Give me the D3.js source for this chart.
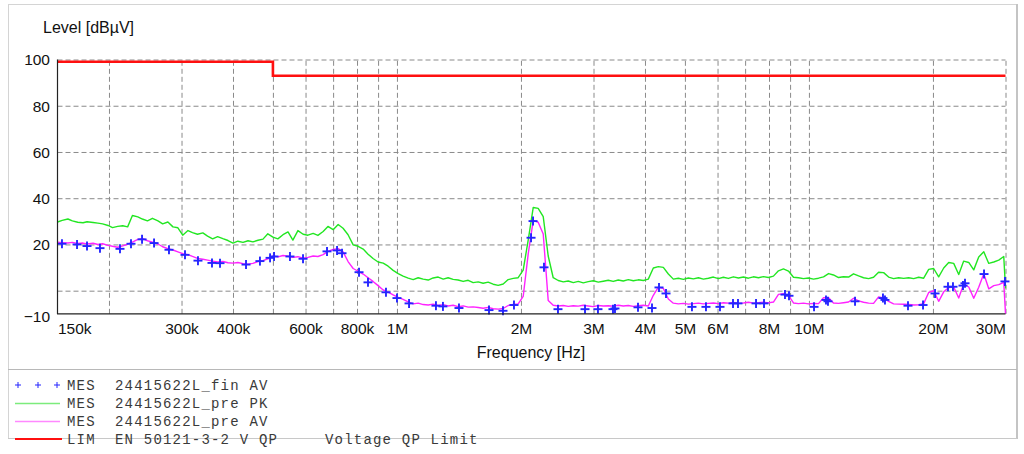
<!DOCTYPE html>
<html><head><meta charset="utf-8">
<script src="https://cdn.jsdelivr.net/npm/d3@7"></script>
<style>body{margin:0;background:#fff;} svg{display:block;}</style>
</head><body><svg id="c" width="1024" height="454"></svg>
<script>
// ---------------- DATA ----------------
const freqMHz = [
0.150,0.154,0.159,0.163,0.168,0.173,0.177,0.183,0.188,0.193,
0.199,0.204,0.210,0.216,0.222,0.228,0.235,0.241,0.248,0.255,
0.263,0.270,0.278,0.286,0.294,0.302,0.311,0.319,0.328,0.338,
0.347,0.357,0.367,0.378,0.389,0.400,0.411,0.423,0.435,0.447,
0.460,0.473,0.486,0.500,0.514,0.529,0.544,0.559,0.575,0.592,
0.608,0.626,0.643,0.662,0.680,0.700,0.720,0.740,0.761,0.783,
0.805,0.828,0.851,0.875,0.900,0.926,0.952,0.979,1.007,1.035,
1.065,1.095,1.126,1.158,1.191,1.224,1.259,1.295,1.331,1.369,
1.408,1.448,1.489,1.531,1.575,1.619,1.665,1.712,1.761,1.811,
1.862,1.915,1.969,2.025,2.083,2.142,2.202,2.265,2.329,2.395,
2.463,2.533,2.605,2.679,2.755,2.833,2.913,2.996,3.081,3.168,
3.258,3.350,3.445,3.543,3.644,3.747,3.853,3.963,4.075,4.191,
4.310,4.432,4.558,4.687,4.820,4.957,5.097,5.242,5.391,5.544,
5.701,5.863,6.029,6.200,6.376,6.557,6.743,6.934,7.131,7.333,
7.541,7.755,7.975,8.201,8.434,8.673,8.919,9.172,9.432,9.700,
9.975,10.26,10.55,10.85,11.16,11.47,11.80,12.13,12.48,12.83,
13.20,13.57,13.96,14.35,14.76,15.18,15.61,16.05,16.51,16.98,
17.46,17.96,18.47,18.99,19.53,20.08,20.65,21.24,21.84,22.46,
23.10,23.75,24.43,25.12,25.83,26.57,27.32,28.10,28.89,29.71,
30.00];

const prePK = [
29.7,30.4,31.0,30.2,29.6,29.4,29.8,29.5,29.2,28.9,
28.2,27.3,27.8,28.1,27.6,32.5,31.9,31.0,30.2,31.3,
30.2,28.9,29.7,27.6,27.2,24.0,26.0,25.1,24.4,25.0,
23.6,22.4,23.4,22.5,21.7,20.6,21.4,20.9,21.6,21.1,
21.8,22.3,24.6,23.2,22.4,24.2,25.4,21.9,26.0,24.4,
24.0,24.8,23.9,25.6,27.8,26.4,28.6,27.0,24.2,19.8,
19.2,18.0,15.8,13.9,12.4,11.9,10.6,8.8,7.4,6.3,
5.4,4.8,5.6,5.0,4.6,5.5,5.9,5.0,5.6,4.9,
4.6,4.0,4.5,3.5,3.8,3.2,3.7,2.8,2.3,2.9,
4.8,5.3,5.6,8.9,22.0,36.0,35.6,32.0,15.0,5.6,
4.4,3.8,4.2,3.5,4.0,3.4,3.9,4.3,3.7,4.1,
4.5,4.0,4.6,4.2,4.8,4.3,4.7,4.4,5.0,9.8,
10.4,10.1,7.2,5.0,5.4,4.9,5.5,5.1,5.6,5.0,
5.4,5.9,5.2,5.8,5.3,6.0,5.5,5.9,5.4,6.0,
5.6,6.1,5.7,6.3,8.6,9.4,8.5,5.8,5.6,5.2,
5.5,5.0,5.4,6.0,7.4,6.8,5.7,6.0,5.9,7.3,
6.4,5.6,5.2,5.8,8.0,7.8,5.9,5.2,5.6,5.3,
5.6,5.2,5.8,5.4,9.2,9.6,6.0,9.8,12.2,11.8,
7.0,12.8,12.2,9.0,14.6,16.8,11.8,12.4,13.2,14.8,
1.0];

const preAV = [
21.0,20.8,20.6,20.9,20.4,20.6,20.2,20.5,20.0,20.3,
19.6,19.2,18.8,19.4,20.1,21.0,22.2,22.6,21.6,21.0,
20.2,19.0,18.2,17.6,16.8,16.0,15.6,14.8,14.0,13.6,
13.2,12.8,12.4,12.6,12.1,11.9,12.2,11.7,11.5,11.8,
12.6,13.0,13.8,15.0,14.6,15.2,14.9,14.4,14.7,14.1,
14.4,15.0,14.8,15.6,17.0,17.8,18.2,16.8,12.6,9.6,
8.4,7.2,5.6,4.0,2.2,0.3,-0.6,-1.8,-2.9,-3.8,
-4.8,-5.7,-5.4,-6.0,-6.2,-5.8,-6.4,-6.1,-6.6,-6.3,
-6.9,-6.6,-7.1,-7.0,-7.3,-7.6,-7.2,-7.8,-8.0,-7.7,
-6.4,-6.0,-5.7,-2.5,16.0,30.4,29.6,24.5,-4.2,-6.3,
-6.6,-6.4,-6.8,-6.5,-6.7,-6.3,-6.6,-6.9,-6.4,-6.6,
-6.5,-6.7,-6.3,-6.6,-6.4,-6.8,-6.5,-6.3,-6.6,-2.0,
1.5,1.0,-3.6,-5.4,-5.7,-5.5,-5.8,-5.6,-5.4,-5.7,
-5.5,-5.3,-5.6,-5.2,-5.4,-5.1,-5.5,-5.3,-5.0,-5.4,
-5.2,-5.0,-5.3,-4.9,-1.6,-1.3,-2.0,-5.3,-5.6,-5.4,
-5.7,-5.5,-5.6,-3.0,-3.1,-5.3,-5.5,-5.2,-4.9,-3.3,
-4.4,-5.0,-5.4,-5.5,-2.7,-3.1,-4.6,-5.7,-5.8,-5.9,
-6.0,-6.2,-6.1,-5.6,-0.8,0.0,-4.6,-0.5,1.4,1.6,
-3.2,2.9,1.6,-3.3,1.5,7.3,0.8,2.2,2.6,3.6,
-10];

const finFreqMHz = [
0.1538,0.1673,0.1769,0.1902,0.2127,0.2262,0.2406,0.2573,0.2797,0.3059,
0.3289,0.3557,0.3720,0.4302,0.4650,0.4921,0.5032,0.5500,0.5916,0.6765,
0.7155,0.7357,0.8090,0.8506,0.9406,1.0002,1.0700,1.2436,1.2932,1.4144,
1.6728,1.8088,1.9234,2.1159,2.1395,2.2746,2.4597,2.8607,3.0756,3.3450,
3.3825,3.8468,4.1600,4.3260,4.4988,5.2011,5.6246,6.0827,6.5419,6.7269,
7.4402,7.7797,8.7477,8.9454,10.289,11.000,11.123,12.939,15.125,15.296,
17.396,18.921,20.235,21.753,22.368,23.655,23.922,26.607,29.914];
const finAV = [
20.3,20.0,19.3,18.4,18.1,20.3,22.2,20.6,17.7,15.5,
13.0,12.0,11.9,11.3,12.8,14.2,14.8,14.8,13.8,17.0,
17.4,16.2,8.0,3.6,-0.7,-3.2,-5.5,-6.5,-6.8,-7.5,
-8.4,-8.7,-6.2,22.9,30.1,10.1,-8.0,-8.0,-8.0,-8.0,
-7.7,-7.2,-7.5,1.4,-1.2,-7.0,-7.0,-7.0,-5.5,-5.5,
-5.5,-5.5,-1.7,-2.2,-7.0,-4.0,-4.6,-4.6,-3.2,-4.0,
-6.5,-6.2,-1.2,1.7,1.7,2.2,3.2,7.2,4.0];

const limitFreqMHz = [0.15, 0.5, 0.5, 30];
const limitLevel = [99, 99, 93, 93];

const yGridValues = [100, 80, 60, 40, 20, 0];
const yTickValues = [100, 80, 60, 40, 20, -10];
const xGridMHz = [0.2,0.3,0.4,0.5,0.6,0.7,0.8,0.9,1,2,3,4,5,6,7,8,9,10,20,30];
const xTickMHz = [0.15,0.3,0.4,0.6,0.8,1,2,3,4,5,6,8,10,20,30];
const xTickLabels = ["150k","300k","400k","600k","800k","1M","2M","3M","4M","5M","6M","8M","10M","20M","30M"];

const legendTags = ["MES","MES","MES","LIM"];
const legendNames = ["24415622L_fin AV","24415622L_pre PK","24415622L_pre AV","EN 50121-3-2 V QP"];
const legendNotes = ["","","","Voltage QP Limit"];

// ---------------- DRAW ----------------
const svg = d3.select("#c");
const L = 57.5, R = 1005.5, T = 59.5, B = 313.8;
const x = d3.scaleLog().domain([0.15, 30]).range([L, R]);
const y = d3.scaleLinear().domain([-10, 100]).range([B, T]);
const sans = "'Liberation Sans', Arial, Helvetica, sans-serif";
const mono = "'Liberation Mono', 'Courier New', monospace";

// outer frame
svg.append("rect").attr("x", 8.5).attr("y", 4.5).attr("width", 1008).attr("height", 434)
  .attr("fill", "none").attr("stroke", "#d4d4d4");
svg.append("line").attr("x1", 1017).attr("x2", 1017).attr("y1", 4).attr("y2", 439)
  .attr("stroke", "#c4c4c4").attr("stroke-width", 2);
svg.append("line").attr("x1", 8).attr("x2", 1017).attr("y1", 369.5).attr("y2", 369.5)
  .attr("stroke", "#b8b8b8");
svg.append("line").attr("x1", 8).attr("x2", 1017).attr("y1", 438.5).attr("y2", 438.5)
  .attr("stroke", "#c8c8c8");

// grid
const gy = svg.append("g").attr("transform", `translate(${L},0)`)
  .call(d3.axisLeft(y).tickValues(yGridValues).tickSize(-(R - L)).tickFormat(""));
gy.select(".domain").remove();
gy.selectAll("line").attr("stroke", "#8a8a8a").attr("stroke-dasharray", "5,3");

const gx = svg.append("g").attr("transform", `translate(0,${B})`)
  .call(d3.axisBottom(x).tickValues(xGridMHz).tickSize(-(B - T)).tickFormat(""));
gx.select(".domain").remove();
gx.selectAll("line").attr("stroke", "#8a8a8a").attr("stroke-dasharray", "5,3");

// limit
svg.append("path")
  .datum(limitFreqMHz.map((f, i) => [f, limitLevel[i]]))
  .attr("fill", "none").attr("stroke", "#ff1010").attr("stroke-width", 2.6)
  .attr("d", d3.line().x(d => x(d[0])).y(d => y(d[1])));

const line = d3.line().x(d => x(d[0])).y(d => y(d[1]));
// pre PK
svg.append("path")
  .datum(freqMHz.map((f, i) => [f, prePK[i]]).filter(d => d[1] !== undefined))
  .attr("fill", "none").attr("stroke", "#22e622").attr("stroke-width", 1.4)
  .attr("stroke-linejoin", "round").attr("d", line);
// pre AV
svg.append("path")
  .datum(freqMHz.map((f, i) => [f, preAV[i]]).filter(d => d[1] !== undefined))
  .attr("fill", "none").attr("stroke", "#ff22ff").attr("stroke-width", 1.4)
  .attr("stroke-linejoin", "round").attr("d", line);

// fin AV markers
const plus = (g, s, w) => {
  g.append("line").attr("x1", -s).attr("x2", s).attr("y1", 0).attr("y2", 0);
  g.append("line").attr("x1", 0).attr("x2", 0).attr("y1", -s).attr("y2", s);
  g.attr("stroke", "#2525ff").attr("stroke-width", w);
};
svg.append("g").selectAll("g")
  .data(finFreqMHz.map((f, i) => [f, finAV[i]]))
  .join("g")
  .attr("transform", d => `translate(${x(d[0])},${y(d[1])})`)
  .each(function () { plus(d3.select(this), 4.5, 1.9); });

// axes
const ya = svg.append("g").attr("transform", `translate(${L},0)`)
  .call(d3.axisLeft(y).tickValues(yTickValues).tickSize(0).tickPadding(7.5).tickFormat(d3.format("d")));
ya.select(".domain").remove();
ya.selectAll("text").attr("font-family", sans).attr("font-size", 15.5).attr("fill", "#111")
  .attr("dy", d => d === -10 ? "0.5em" : "0.34em");

const xa = svg.append("g").attr("transform", `translate(0,${B})`)
  .call(d3.axisBottom(x).tickValues(xTickMHz).tickSize(0).tickPadding(9)
    .tickFormat((d, i) => xTickLabels[i]));
xa.select(".domain").remove();
xa.selectAll("text").attr("font-family", sans).attr("font-size", 15.5).attr("fill", "#111")
  .attr("text-anchor", (d, i) => i === 0 ? "start" : (i === xTickMHz.length - 1 ? "end" : "middle"));

svg.append("line").attr("x1", L).attr("x2", L).attr("y1", T).attr("y2", B + 0.5)
  .attr("stroke", "#222").attr("stroke-width", 1.2);
svg.append("line").attr("x1", L).attr("x2", R).attr("y1", B).attr("y2", B)
  .attr("stroke", "#222").attr("stroke-width", 1.2);

// titles
svg.append("text").attr("x", 43).attr("y", 33).attr("font-family", sans).attr("font-size", 16)
  .attr("fill", "#111").text("Level [dBµV]");
svg.append("text").attr("x", 531).attr("y", 358).attr("text-anchor", "middle")
  .attr("font-family", sans).attr("font-size", 16).attr("fill", "#111").text("Frequency [Hz]");

// legend
const legY = [390, 408, 426, 443.5];
const lg = svg.append("g");
[18, 38, 57].forEach(px => {
  const g = lg.append("g").attr("transform", `translate(${px},${legY[0] - 5})`);
  plus(g, 3, 1);
});
const legColors = [null, "#7cec7c", "#ff88ff", "#ff1010"];
[1, 2, 3].forEach(i => {
  lg.append("line").attr("x1", 15).attr("x2", i === 3 ? 62 : 60)
    .attr("y1", legY[i] - 4.5).attr("y2", legY[i] - 4.5)
    .attr("stroke", legColors[i]).attr("stroke-width", i === 3 ? 2 : 1.5);
});
legendTags.forEach((t, i) => {
  const tx = (xx, s) => lg.append("text").attr("x", xx).attr("y", legY[i])
    .attr("font-family", mono).attr("font-size", 14).attr("letter-spacing", "1.2px")
    .attr("fill", "#3a3a3a").text(s);
  tx(67, t);
  tx(115, legendNames[i]);
  if (legendNotes[i]) tx(325, legendNotes[i]);
});
</script></body></html>
